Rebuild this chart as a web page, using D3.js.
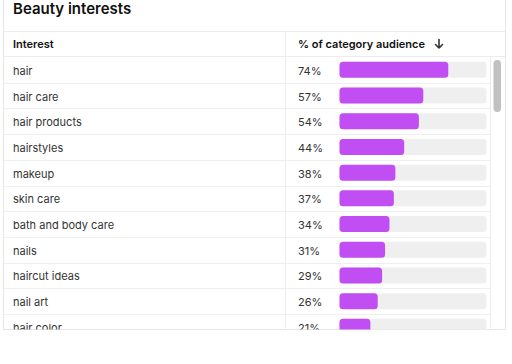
<!DOCTYPE html>
<html><head><meta charset="utf-8">
<script src="https://cdn.jsdelivr.net/npm/d3@7"></script>
<style>
html,body{margin:0;padding:0;background:#fff;}
svg{display:block;font-family:Inter, "Liberation Sans", sans-serif;}
</style></head>
<body>
<svg id="c" width="512" height="364"></svg>
<script>
const title = "Beauty interests";
const colHeaders = ["Interest", "% of category audience"];
const categories = ["hair","hair care","hair products","hairstyles","makeup","skin care","bath and body care","nails","haircut ideas","nail art","hair color"];
const values = [74,57,54,44,38,37,34,31,29,26,21];

const svg = d3.select("#c");
const cardL = 3.5, cardR = 505.5, cardB = 329.5;
const headTop = 31.5, headBot = 57;
const rowH = 25.7;

// card outline
svg.append("path").attr("d", `M${cardL},0 V${cardB} H${cardR} V0`).attr("fill","none").attr("stroke","#e6e6e6").attr("stroke-width",1);

svg.append("text").attr("x",13).attr("y",14).text(title)
  .attr("font-size",15).attr("font-weight",600).attr("fill","#111");

// header lines
svg.append("line").attr("x1",cardL).attr("x2",cardR).attr("y1",headTop).attr("y2",headTop).attr("stroke","#ececec");
svg.append("line").attr("x1",cardL).attr("x2",cardR).attr("y1",headBot-0.5).attr("y2",headBot-0.5).attr("stroke","#ececec");
svg.append("line").attr("x1",285.5).attr("x2",285.5).attr("y1",headTop).attr("y2",cardB).attr("stroke","#ececec");

svg.append("text").attr("x",13).attr("y",48).text(colHeaders[0])
  .attr("font-size",11).attr("font-weight",600).attr("fill","#111");
svg.append("text").attr("x",298).attr("y",48).text(colHeaders[1])
  .attr("font-size",11).attr("font-weight",600).attr("fill","#111");
// sort arrow
svg.append("path").attr("d","M439,39.5 V48 M435.5,44.5 L439,48 L442.5,44.5")
  .attr("fill","none").attr("stroke","#333").attr("stroke-width",1.6).attr("stroke-linecap","round").attr("stroke-linejoin","round");

// scrollbar
svg.append("line").attr("x1",490.5).attr("x2",490.5).attr("y1",headBot).attr("y2",cardB).attr("stroke","#ececec");
svg.append("rect").attr("x",493.5).attr("y",60).attr("width",7.5).attr("height",52).attr("rx",3.7).attr("fill","#c1c1c1");

// clip
svg.append("clipPath").attr("id","clip").append("rect").attr("x",0).attr("y",headBot).attr("width",490).attr("height",cardB-headBot);
const body = svg.append("g").attr("clip-path","url(#clip)");

const y = d3.scaleBand().domain(categories).range([headBot, headBot + rowH*categories.length]).padding(0);
const x = d3.scaleLinear().domain([0,100]).range([339.5, 486.5]);

const rows = body.selectAll("g.row").data(categories.map((c,i)=>({c, v:values[i]}))).join("g").attr("class","row");

rows.append("line").attr("x1",cardL).attr("x2",490)
  .attr("y1",d=>Math.round(y(d.c)+y.bandwidth())+0.5).attr("y2",d=>Math.round(y(d.c)+y.bandwidth())+0.5)
  .attr("stroke","#efefef");
rows.append("text").attr("x",13).attr("y",d=>y(d.c)+y.bandwidth()/2+5)
  .text(d=>d.c).attr("font-size",11).attr("fill","#333");
rows.append("text").attr("x",298).attr("y",d=>y(d.c)+y.bandwidth()/2+5)
  .text(d=>d.v+"%").attr("font-size",11).attr("fill","#333");
rows.append("rect").attr("x",x(0)).attr("y",d=>y(d.c)+y.bandwidth()/2-8)
  .attr("width",x(100)-x(0)).attr("height",16).attr("rx",3.5).attr("fill","#efefef");
rows.append("rect").attr("x",x(0)).attr("y",d=>y(d.c)+y.bandwidth()/2-8)
  .attr("width",d=>x(d.v)-x(0)).attr("height",16).attr("rx",3.5).attr("fill","#c04ef2");
</script>
</body></html>
